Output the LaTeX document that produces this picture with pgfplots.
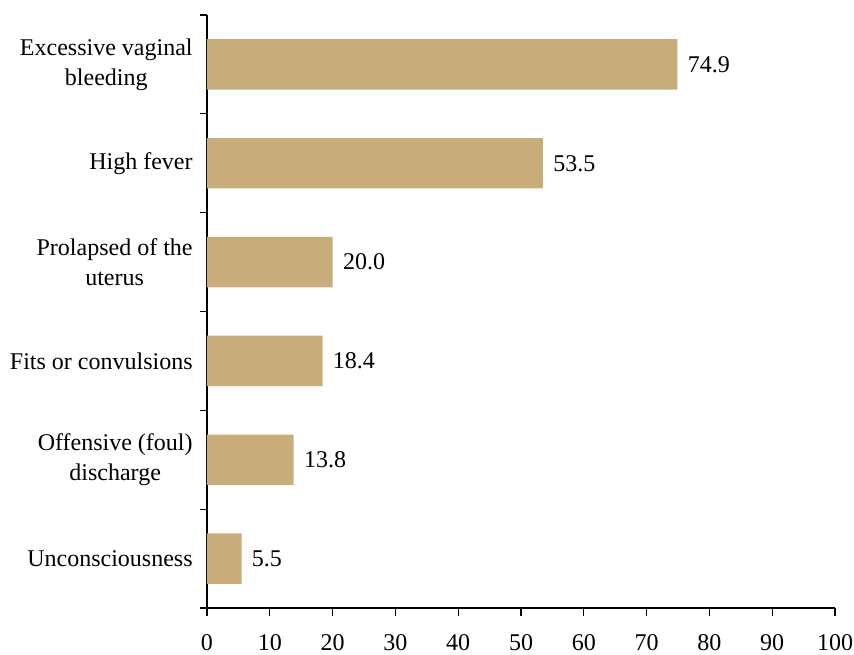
\documentclass[border=0pt]{standalone}
\usepackage{fontspec}
\setmainfont{Liberation Serif}
\usepackage{pgfplots}
\pgfplotsset{compat=1.18}
\definecolor{barc}{RGB}{200,173,122}
\begin{document}
\fontsize{12}{15}\selectfont
\begin{tikzpicture}
\begin{axis}[
  scale only axis,
  width=314pt, height=296.5pt,
  xmin=0, xmax=100,
  ymin=-0.5, ymax=5.5,
  y dir=reverse,
  axis lines*=left,
  axis line style={black, line width=0.6pt},
  xtick={0,10,...,100},
  tick align=outside,
  xtick style={black, line width=0.6pt},
  x tick label style={yshift=-5pt},
  major tick length=4pt,
  ytick={0,1,2,3,4,5},
  yticklabels={{Excessive vaginal\\bleeding},{High fever},{Prolapsed of the\\uterus},{Fits or convulsions},{Offensive (foul)\\discharge},{Unconsciousness}},
  y tick label style={align=center, xshift=1pt, font=\fontsize{12}{15}\selectfont},
  major y tick style={draw=none},
  minor ytick={-0.5,0.5,1.5,2.5,3.5,4.5,5.5},
  minor y tick style={draw=black, line width=0.6pt},
  minor tick length=3.5pt,
  /pgf/number format/assume math mode=true,
  tick label style={font=\fontsize{12}{15}\selectfont},
  xbar,
  bar width=0.51,
  nodes near coords,
  nodes near coords style={font=\fontsize{12}{15}\selectfont, /pgf/number format/fixed, /pgf/number format/precision=1, /pgf/number format/fixed zerofill, anchor=west, xshift=1pt},
  clip=false,
]
\addplot[fill=barc, draw=none] coordinates {
(74.9,0) (53.5,1) (20.0,2) (18.4,3) (13.8,4) (5.5,5)
};
\end{axis}
\pgfresetboundingbox
\path[use as bounding box] (-103.5pt,-23pt) rectangle (323.5pt,304pt);
\end{tikzpicture}
\end{document}
